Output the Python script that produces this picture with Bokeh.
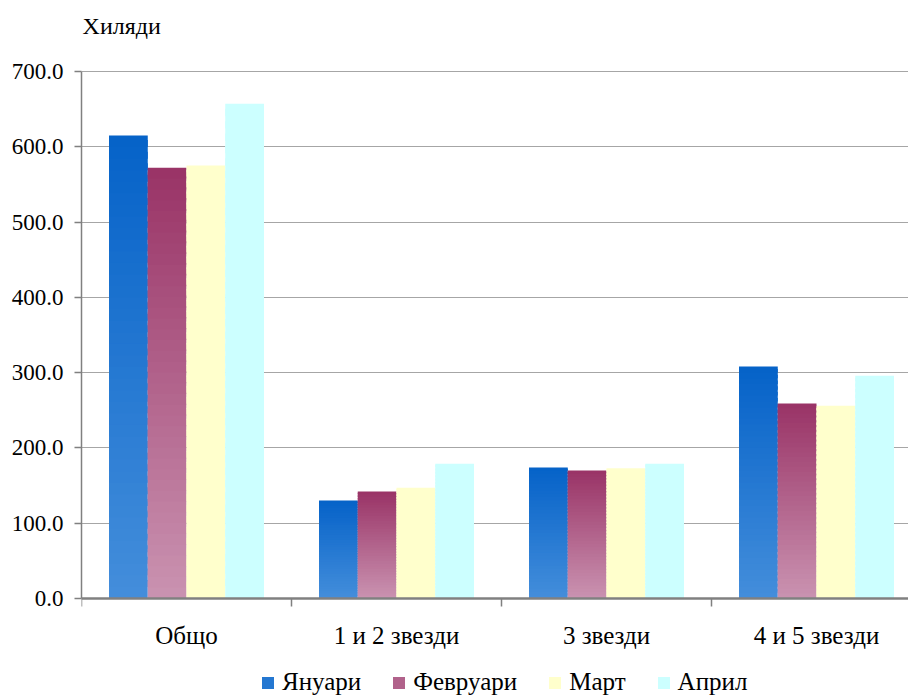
from bokeh.plotting import figure
from bokeh.models import ColumnDataSource, FixedTicker, Legend, LegendItem, Label
from bokeh.embed import file_html
from bokeh.resources import INLINE

# ---- data ----
categories = ["Общо", "1 и 2 звезди", "3 звезди", "4 и 5 звезди"]
series_names = ["Януари", "Февруари", "Март", "Април"]
january = [615, 130, 174, 308]
february = [572, 142, 170, 259]
march = [575, 147, 173, 256]
april = [657, 179, 179, 296]
y_ticks = [0, 100, 200, 300, 400, 500, 600, 700]
y_tick_labels = ["0.0", "100.0", "200.0", "300.0", "400.0", "500.0", "600.0", "700.0"]
unit_label = "Хиляди"

series_values = [january, february, march, april]
# (top colour, bottom colour) of each series' vertical gradient
top_colors = [(5, 98, 200), (153, 51, 102), (255, 255, 204), (204, 255, 255)]
bottom_colors = [(68, 142, 219), (202, 147, 177), (255, 255, 204), (204, 255, 255)]

FONT = "Times New Roman"
N_SLICES = 40
bar_w = 0.1845

p = figure(width=908, height=696, x_range=(0, 827 / 210), y_range=(-130.2, 794.3),
           output_backend="svg", toolbar_location=None,
           min_border_left=81, min_border_right=0, min_border_top=0, min_border_bottom=0)
p.outline_line_color = None
p.xgrid.grid_line_color = None
p.ygrid.grid_line_color = "#A6A6A6"
p.ygrid.grid_line_width = 1
p.ygrid.ticker = FixedTicker(ticks=y_ticks)

def hexc(c):
    return "#%02x%02x%02x" % tuple(int(round(v)) for v in c)

legend_items = []
for j, (name, vals) in enumerate(zip(series_names, series_values)):
    L, R, B, T, C = [], [], [], [], []
    for i, v in enumerate(vals):
        xc = i + 0.5 + (j - 1.5) * bar_w
        for k in range(N_SLICES):
            t = (k + 0.5) / N_SLICES
            col = [bottom_colors[j][c] + (top_colors[j][c] - bottom_colors[j][c]) * t for c in range(3)]
            L.append(xc - bar_w / 2)
            R.append(xc + bar_w / 2)
            B.append(v * k / N_SLICES)
            T.append(min(v, v * (k + 1.6) / N_SLICES))
            C.append(hexc(col))
    src = ColumnDataSource(dict(left=L, right=R, bottom=B, top=T, color=C))
    r = p.quad(left="left", right="right", bottom="bottom", top="top", source=src,
               fill_color="color", line_color=None)
    legend_items.append(LegendItem(label=name, renderers=[r], index=N_SLICES // 2))

# y axis
ya = p.yaxis[0]
ya.ticker = FixedTicker(ticks=y_ticks)
ya.major_label_overrides = {t: l for t, l in zip(y_ticks, y_tick_labels)}
ya.bounds = (0, 700)
ya.axis_line_color = "#808080"
ya.axis_line_width = 1.5
ya.major_tick_line_color = "#808080"
ya.major_tick_line_width = 1.5
ya.major_tick_out = 7
ya.major_tick_in = 0
ya.minor_tick_line_color = None
ya.major_label_text_font = FONT
ya.major_label_text_font_size = "23px"
ya.major_label_text_color = "black"
ya.major_label_standoff = 11

# x axis, fixed at y = 0
xa = p.xaxis[0]
xa.fixed_location = 0
xa.ticker = FixedTicker(ticks=[i + 0.5 for i in range(len(categories))],
                        minor_ticks=list(range(len(categories) + 1)))
xa.major_label_overrides = {i + 0.5: c for i, c in enumerate(categories)}
xa.axis_line_color = "#808080"
xa.axis_line_width = 2.5
xa.major_tick_line_color = None
xa.major_tick_out = 0
xa.major_tick_in = 0
xa.minor_tick_line_color = "#808080"
xa.minor_tick_line_width = 1.5
xa.minor_tick_out = 8
xa.minor_tick_in = 0
xa.major_label_text_font = FONT
xa.major_label_text_font_size = "25px"
xa.major_label_text_color = "black"
xa.major_label_standoff = 16

p.add_layout(Label(x=0.005, y=761, text=unit_label, text_font=FONT, text_font_size="24px",
                   text_color="black", text_baseline="middle", text_align="left"))

legend = Legend(items=legend_items, orientation="horizontal", location=(179, 0),
                label_text_font=FONT, label_text_font_size="25px", label_text_color="black",
                glyph_width=15, glyph_height=15, label_standoff=7, spacing=30,
                padding=0, margin=0, border_line_color=None, background_fill_alpha=0)
p.add_layout(legend, "center")

open("out.html", "w").write(file_html(p, INLINE))
